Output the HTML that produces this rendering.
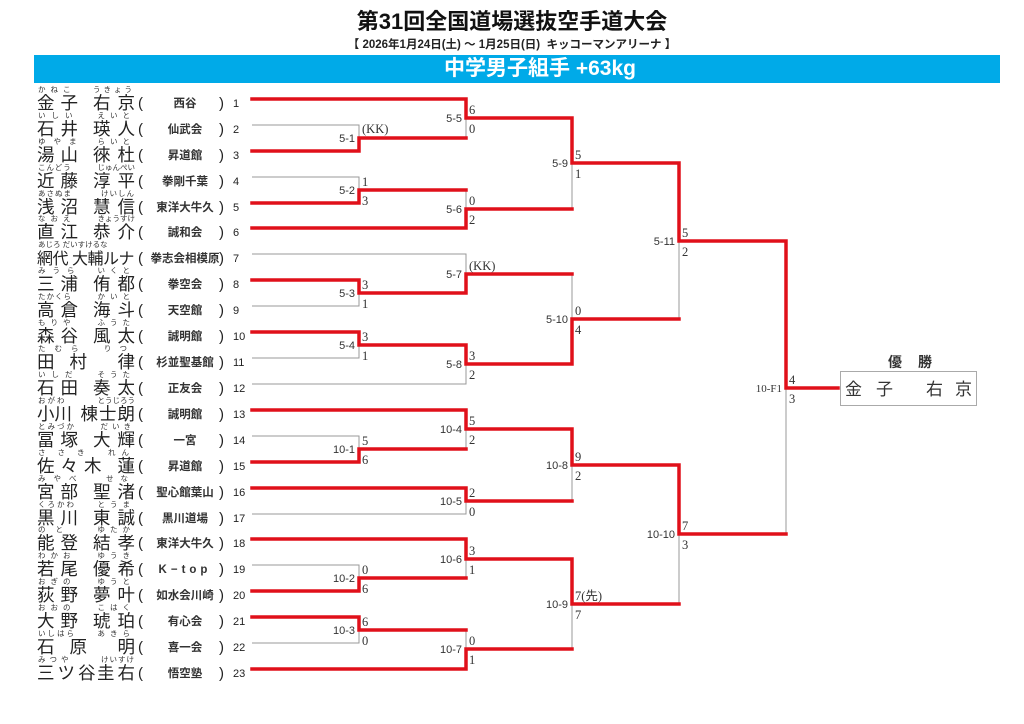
<!DOCTYPE html>
<html><head><meta charset="utf-8">
<style>
*{margin:0;padding:0;box-sizing:border-box}
body{width:1024px;height:724px;background:#fff;position:relative;overflow:hidden;font-family:"Liberation Sans","Noto Sans CJK JP",sans-serif;color:#222}
.abs{position:absolute;white-space:nowrap}
.title{left:0;width:1024px;top:9px;text-align:center;font-size:22px;font-weight:bold;line-height:26px;color:#111}
.sub{left:0;width:1024px;top:38px;text-align:center;font-size:11.5px;font-weight:bold;line-height:14px}
.bar{left:34px;top:55px;width:966px;height:28px;background:#00aae8;color:#fff;text-align:center;font-size:21px;font-weight:bold;line-height:28px;padding-left:46px}
.nm{font-size:17.5px;line-height:17px;color:#222}
.fu{font-size:7.5px;line-height:8px;color:#333}
.dj{font-size:11.5px;line-height:14px;font-weight:bold;width:80px;text-align:center;color:#333}
.pa{font-size:15px;line-height:16px}
.no{font-size:11px;line-height:14px}
</style></head><body>
<div class="abs title">第31回全国道場選抜空手道大会</div>
<div class="abs sub">【 2026年1月24日(土) ～ 1月25日(日)&nbsp; キッコーマンアリーナ 】</div>
<div class="abs bar">中学男子組手 +63kg</div>

<!-- names -->
<div class="abs fu" style="left:38px;top:86px;letter-spacing:5px">かねこ</div><div class="abs fu" style="right:889px;top:86px;letter-spacing:3px">うきょう</div>
<div class="abs nm" style="left:37px;top:95px;letter-spacing:6px">金子</div><div class="abs nm" style="right:889px;top:95px;letter-spacing:7px;margin-right:-7px">右京</div>
<div class="abs fu" style="left:38px;top:112px;letter-spacing:6px">いしい</div><div class="abs fu" style="right:889px;top:112px;letter-spacing:5px">えいと</div>
<div class="abs nm" style="left:37px;top:121px;letter-spacing:6px">石井</div><div class="abs nm" style="right:889px;top:121px;letter-spacing:7px;margin-right:-7px">瑛人</div>
<div class="abs fu" style="left:38px;top:138px;letter-spacing:8px">ゆやま</div><div class="abs fu" style="right:889px;top:138px;letter-spacing:5px">らいと</div>
<div class="abs nm" style="left:37px;top:147px;letter-spacing:6px">湯山</div><div class="abs nm" style="right:889px;top:147px;letter-spacing:7px;margin-right:-7px">徠杜</div>
<div class="abs fu" style="left:38px;top:164px;letter-spacing:1px">こんどう</div><div class="abs fu" style="right:889px;top:164px;letter-spacing:0px">じゅんぺい</div>
<div class="abs nm" style="left:37px;top:173px;letter-spacing:6px">近藤</div><div class="abs nm" style="right:889px;top:173px;letter-spacing:7px;margin-right:-7px">淳平</div>
<div class="abs fu" style="left:38px;top:190px;letter-spacing:1px">あさぬま</div><div class="abs fu" style="right:889px;top:190px;letter-spacing:1px">けいしん</div>
<div class="abs nm" style="left:37px;top:199px;letter-spacing:6px">浅沼</div><div class="abs nm" style="right:889px;top:199px;letter-spacing:7px;margin-right:-7px">慧信</div>
<div class="abs fu" style="left:38px;top:215px;letter-spacing:5px">なおえ</div><div class="abs fu" style="right:889px;top:215px;letter-spacing:0px">きょうすけ</div>
<div class="abs nm" style="left:37px;top:224px;letter-spacing:6px">直江</div><div class="abs nm" style="right:889px;top:224px;letter-spacing:7px;margin-right:-7px">恭介</div>
<div class="abs fu" style="left:38px;top:241px;letter-spacing:0px">あじろ だいすけるな</div>
<div class="abs nm" style="left:37px;top:251px;font-size:16px;letter-spacing:-0.5px">網代 大輔ルナ</div>
<div class="abs fu" style="left:38px;top:267px;letter-spacing:7px">みうら</div><div class="abs fu" style="right:889px;top:267px;letter-spacing:5px">いくと</div>
<div class="abs nm" style="left:37px;top:276px;letter-spacing:6px">三浦</div><div class="abs nm" style="right:889px;top:276px;letter-spacing:7px;margin-right:-7px">侑都</div>
<div class="abs fu" style="left:38px;top:293px;letter-spacing:1px">たかくら</div><div class="abs fu" style="right:889px;top:293px;letter-spacing:5px">かいと</div>
<div class="abs nm" style="left:37px;top:302px;letter-spacing:6px">高倉</div><div class="abs nm" style="right:889px;top:302px;letter-spacing:7px;margin-right:-7px">海斗</div>
<div class="abs fu" style="left:38px;top:319px;letter-spacing:5px">もりや</div><div class="abs fu" style="right:889px;top:319px;letter-spacing:5px">ふうた</div>
<div class="abs nm" style="left:37px;top:328px;letter-spacing:6px">森谷</div><div class="abs nm" style="right:889px;top:328px;letter-spacing:7px;margin-right:-7px">風太</div>
<div class="abs fu" style="left:38px;top:345px;letter-spacing:9px">たむら</div><div class="abs fu" style="right:889px;top:345px;letter-spacing:8px">りつ</div>
<div class="abs nm" style="left:37px;top:354px;letter-spacing:15px">田村</div><div class="abs nm" style="right:889px;top:354px">律</div>
<div class="abs fu" style="left:38px;top:371px;letter-spacing:6px">いしだ</div><div class="abs fu" style="right:889px;top:371px;letter-spacing:5px">そうた</div>
<div class="abs nm" style="left:37px;top:380px;letter-spacing:6px">石田</div><div class="abs nm" style="right:889px;top:380px;letter-spacing:7px;margin-right:-7px">奏太</div>
<div class="abs fu" style="left:38px;top:397px;letter-spacing:2px">おがわ</div><div class="abs fu" style="right:889px;top:397px;letter-spacing:0px">とうじろう</div>
<div class="abs nm" style="left:37px;top:406px;letter-spacing:0px">小川</div><div class="abs nm" style="right:889px;top:406px;letter-spacing:1px;margin-right:-1px">棟士朗</div>
<div class="abs fu" style="left:38px;top:423px;letter-spacing:2px">とみづか</div><div class="abs fu" style="right:889px;top:423px;letter-spacing:4px">だいき</div>
<div class="abs nm" style="left:37px;top:432px;letter-spacing:6px">冨塚</div><div class="abs nm" style="right:889px;top:432px;letter-spacing:7px;margin-right:-7px">大輝</div>
<div class="abs fu" style="left:38px;top:449px;letter-spacing:12px">ささき</div><div class="abs fu" style="right:889px;top:449px;letter-spacing:6px">れん</div>
<div class="abs nm" style="left:37px;top:458px;letter-spacing:6px">佐々木</div><div class="abs nm" style="right:889px;top:458px">蓮</div>
<div class="abs fu" style="left:38px;top:475px;letter-spacing:8px">みやべ</div><div class="abs fu" style="right:889px;top:475px;letter-spacing:7px">せな</div>
<div class="abs nm" style="left:37px;top:484px;letter-spacing:6px">宮部</div><div class="abs nm" style="right:889px;top:484px;letter-spacing:7px;margin-right:-7px">聖渚</div>
<div class="abs fu" style="left:38px;top:501px;letter-spacing:2px">くろかわ</div><div class="abs fu" style="right:889px;top:501px;letter-spacing:5px">とうま</div>
<div class="abs nm" style="left:37px;top:510px;letter-spacing:6px">黒川</div><div class="abs nm" style="right:889px;top:510px;letter-spacing:7px;margin-right:-7px">東誠</div>
<div class="abs fu" style="left:38px;top:526px;letter-spacing:10px">のと</div><div class="abs fu" style="right:889px;top:526px;letter-spacing:5px">ゆたか</div>
<div class="abs nm" style="left:37px;top:535px;letter-spacing:6px">能登</div><div class="abs nm" style="right:889px;top:535px;letter-spacing:7px;margin-right:-7px">結孝</div>
<div class="abs fu" style="left:38px;top:552px;letter-spacing:5px">わかお</div><div class="abs fu" style="right:889px;top:552px;letter-spacing:5px">ゆうき</div>
<div class="abs nm" style="left:37px;top:561px;letter-spacing:6px">若尾</div><div class="abs nm" style="right:889px;top:561px;letter-spacing:7px;margin-right:-7px">優希</div>
<div class="abs fu" style="left:38px;top:578px;letter-spacing:5px">おぎの</div><div class="abs fu" style="right:889px;top:578px;letter-spacing:5px">ゆうと</div>
<div class="abs nm" style="left:37px;top:587px;letter-spacing:6px">荻野</div><div class="abs nm" style="right:889px;top:587px;letter-spacing:7px;margin-right:-7px">夢叶</div>
<div class="abs fu" style="left:38px;top:604px;letter-spacing:5px">おおの</div><div class="abs fu" style="right:889px;top:604px;letter-spacing:5px">こはく</div>
<div class="abs nm" style="left:37px;top:613px;letter-spacing:6px">大野</div><div class="abs nm" style="right:889px;top:613px;letter-spacing:7px;margin-right:-7px">琥珀</div>
<div class="abs fu" style="left:38px;top:630px;letter-spacing:2px">いしはら</div><div class="abs fu" style="right:889px;top:630px;letter-spacing:5px">あきら</div>
<div class="abs nm" style="left:37px;top:639px;letter-spacing:15px">石原</div><div class="abs nm" style="right:889px;top:639px">明</div>
<div class="abs fu" style="left:38px;top:656px;letter-spacing:4px">みつや</div><div class="abs fu" style="right:889px;top:656px;letter-spacing:1px">けいすけ</div>
<div class="abs nm" style="left:37px;top:665px;letter-spacing:3px">三ツ谷</div><div class="abs nm" style="right:889px;top:665px;letter-spacing:3px;margin-right:-3px">圭右</div>

<!-- dojo, parens, numbers -->
<div class="abs" style="left:0;top:0">
<div class="abs pa" style="left:138px;top:96px">(</div><div class="abs dj" style="left:145px;top:97px">西谷</div><div class="abs pa" style="left:219px;top:96px">)</div><div class="abs no" style="left:233px;top:97px">1</div>
<div class="abs pa" style="left:138px;top:122px">(</div><div class="abs dj" style="left:145px;top:123px">仙武会</div><div class="abs pa" style="left:219px;top:122px">)</div><div class="abs no" style="left:233px;top:123px">2</div>
<div class="abs pa" style="left:138px;top:148px">(</div><div class="abs dj" style="left:145px;top:149px">昇道館</div><div class="abs pa" style="left:219px;top:148px">)</div><div class="abs no" style="left:233px;top:149px">3</div>
<div class="abs pa" style="left:138px;top:174px">(</div><div class="abs dj" style="left:145px;top:175px">拳剛千葉</div><div class="abs pa" style="left:219px;top:174px">)</div><div class="abs no" style="left:233px;top:175px">4</div>
<div class="abs pa" style="left:138px;top:200px">(</div><div class="abs dj" style="left:145px;top:201px">東洋大牛久</div><div class="abs pa" style="left:219px;top:200px">)</div><div class="abs no" style="left:233px;top:201px">5</div>
<div class="abs pa" style="left:138px;top:225px">(</div><div class="abs dj" style="left:145px;top:226px">誠和会</div><div class="abs pa" style="left:219px;top:225px">)</div><div class="abs no" style="left:233px;top:226px">6</div>
<div class="abs pa" style="left:138px;top:251px">(</div><div class="abs dj" style="left:145px;top:252px">拳志会相模原</div><div class="abs pa" style="left:219px;top:251px">)</div><div class="abs no" style="left:233px;top:252px">7</div>
<div class="abs pa" style="left:138px;top:277px">(</div><div class="abs dj" style="left:145px;top:278px">拳空会</div><div class="abs pa" style="left:219px;top:277px">)</div><div class="abs no" style="left:233px;top:278px">8</div>
<div class="abs pa" style="left:138px;top:303px">(</div><div class="abs dj" style="left:145px;top:304px">天空館</div><div class="abs pa" style="left:219px;top:303px">)</div><div class="abs no" style="left:233px;top:304px">9</div>
<div class="abs pa" style="left:138px;top:329px">(</div><div class="abs dj" style="left:145px;top:330px">誠明館</div><div class="abs pa" style="left:219px;top:329px">)</div><div class="abs no" style="left:233px;top:330px">10</div>
<div class="abs pa" style="left:138px;top:355px">(</div><div class="abs dj" style="left:145px;top:356px">杉並聖基館</div><div class="abs pa" style="left:219px;top:355px">)</div><div class="abs no" style="left:233px;top:356px">11</div>
<div class="abs pa" style="left:138px;top:381px">(</div><div class="abs dj" style="left:145px;top:382px">正友会</div><div class="abs pa" style="left:219px;top:381px">)</div><div class="abs no" style="left:233px;top:382px">12</div>
<div class="abs pa" style="left:138px;top:407px">(</div><div class="abs dj" style="left:145px;top:408px">誠明館</div><div class="abs pa" style="left:219px;top:407px">)</div><div class="abs no" style="left:233px;top:408px">13</div>
<div class="abs pa" style="left:138px;top:433px">(</div><div class="abs dj" style="left:145px;top:434px">一宮</div><div class="abs pa" style="left:219px;top:433px">)</div><div class="abs no" style="left:233px;top:434px">14</div>
<div class="abs pa" style="left:138px;top:459px">(</div><div class="abs dj" style="left:145px;top:460px">昇道館</div><div class="abs pa" style="left:219px;top:459px">)</div><div class="abs no" style="left:233px;top:460px">15</div>
<div class="abs pa" style="left:138px;top:485px">(</div><div class="abs dj" style="left:145px;top:486px">聖心館葉山</div><div class="abs pa" style="left:219px;top:485px">)</div><div class="abs no" style="left:233px;top:486px">16</div>
<div class="abs pa" style="left:138px;top:511px">(</div><div class="abs dj" style="left:145px;top:512px">黒川道場</div><div class="abs pa" style="left:219px;top:511px">)</div><div class="abs no" style="left:233px;top:512px">17</div>
<div class="abs pa" style="left:138px;top:536px">(</div><div class="abs dj" style="left:145px;top:537px">東洋大牛久</div><div class="abs pa" style="left:219px;top:536px">)</div><div class="abs no" style="left:233px;top:537px">18</div>
<div class="abs pa" style="left:138px;top:562px">(</div><div class="abs dj" style="left:145px;top:563px;letter-spacing:4px">K−top</div><div class="abs pa" style="left:219px;top:562px">)</div><div class="abs no" style="left:233px;top:563px">19</div>
<div class="abs pa" style="left:138px;top:588px">(</div><div class="abs dj" style="left:145px;top:589px">如水会川崎</div><div class="abs pa" style="left:219px;top:588px">)</div><div class="abs no" style="left:233px;top:589px">20</div>
<div class="abs pa" style="left:138px;top:614px">(</div><div class="abs dj" style="left:145px;top:615px">有心会</div><div class="abs pa" style="left:219px;top:614px">)</div><div class="abs no" style="left:233px;top:615px">21</div>
<div class="abs pa" style="left:138px;top:640px">(</div><div class="abs dj" style="left:145px;top:641px">喜一会</div><div class="abs pa" style="left:219px;top:640px">)</div><div class="abs no" style="left:233px;top:641px">22</div>
<div class="abs pa" style="left:138px;top:666px">(</div><div class="abs dj" style="left:145px;top:667px">悟空塾</div><div class="abs pa" style="left:219px;top:666px">)</div><div class="abs no" style="left:233px;top:667px">23</div>
</div>

<svg class="abs" style="left:0;top:0" width="1024" height="724" viewBox="0 0 1024 724">
<g stroke="#999" stroke-width="1" fill="none">
<path d="M252 125H359V138 M252 177H359V190 M252 254H466V274 M252 306H359V293 M252 358H359V345 M252 384H466V364 M466 118V138 M466 190V209 M572 163V209 M572 274V319 M679 241V319"/>
<path d="M252 436H359V449 M466 429V449 M252 514H466V501 M572 465V501 M252 565H359V578 M466 559V578 M252 643H359V630 M466 630V649 M572 604V649 M679 534V604 M786 388V534"/>
<rect x="840.5" y="371.5" width="136" height="34" stroke="#aaa"/>
</g>
<g stroke="#e0101a" stroke-width="3.5" fill="none" stroke-linejoin="miter" stroke-linecap="square">
<path d="M252 99H466V118H572V163H679V241H786V388H838"/>
<path d="M252 151H359V138H466"/>
<path d="M252 203H359V190H466"/>
<path d="M252 228H466V209H572"/>
<path d="M252 280H359V293H466V274H572"/>
<path d="M252 332H359V345H466V364H572V319H679"/>
<path d="M252 410H466V429H572V465H679V534H786"/>
<path d="M252 462H359V449H466"/>
<path d="M252 488H466V501H572"/>
<path d="M252 539H466V559H572V604H679"/>
<path d="M252 591H359V578H466"/>
<path d="M252 617H359V630H466"/>
<path d="M252 669H466V649H572"/>
</g>
<g font-family="Liberation Sans, sans-serif" font-size="11" fill="#333" text-anchor="end">
<text x="355" y="142">5-1</text><text x="355" y="194">5-2</text><text x="355" y="297">5-3</text><text x="355" y="349">5-4</text>
<text x="462" y="122">5-5</text><text x="462" y="213">5-6</text><text x="462" y="278">5-7</text><text x="462" y="368">5-8</text>
<text x="568" y="167">5-9</text><text x="568" y="323">5-10</text><text x="675" y="245">5-11</text>
<text x="355" y="453">10-1</text><text x="355" y="582">10-2</text><text x="355" y="634">10-3</text>
<text x="462" y="433">10-4</text><text x="462" y="505">10-5</text><text x="462" y="563">10-6</text><text x="462" y="653">10-7</text>
<text x="568" y="469">10-8</text><text x="568" y="608">10-9</text><text x="675" y="538">10-10</text>
</g>
<text x="782" y="392" font-family="Liberation Serif, serif" font-size="11" fill="#333" text-anchor="end">10-F1</text>
<g font-family="Liberation Serif, 'Noto Sans CJK JP', serif" font-size="12.5" fill="#333">
<text x="362" y="133">(KK)</text>
<text x="469" y="114">6</text><text x="469" y="133">0</text>
<text x="362" y="186">1</text><text x="362" y="205">3</text>
<text x="469" y="205">0</text><text x="469" y="224">2</text>
<text x="575" y="159">5</text><text x="575" y="178">1</text>
<text x="362" y="289">3</text><text x="362" y="308">1</text>
<text x="469" y="270">(KK)</text>
<text x="362" y="341">3</text><text x="362" y="360">1</text>
<text x="469" y="360">3</text><text x="469" y="379">2</text>
<text x="575" y="315">0</text><text x="575" y="334">4</text>
<text x="682" y="237">5</text><text x="682" y="256">2</text>
<text x="362" y="445">5</text><text x="362" y="464">6</text>
<text x="469" y="425">5</text><text x="469" y="444">2</text>
<text x="469" y="497">2</text><text x="469" y="516">0</text>
<text x="575" y="461">9</text><text x="575" y="480">2</text>
<text x="362" y="574">0</text><text x="362" y="593">6</text>
<text x="469" y="555">3</text><text x="469" y="574">1</text>
<text x="362" y="626">6</text><text x="362" y="645">0</text>
<text x="469" y="645">0</text><text x="469" y="664">1</text>
<text x="575" y="600">7(先)</text><text x="575" y="619">7</text>
<text x="682" y="530">7</text><text x="682" y="549">3</text>
<text x="789" y="384">4</text><text x="789" y="403">3</text>
</g>
<text x="888" y="367" font-family="Liberation Sans, 'Noto Sans CJK JP', sans-serif" font-size="14" font-weight="bold" fill="#333" letter-spacing="16">優勝</text>
<g font-family="Liberation Sans, 'Noto Sans CJK JP', sans-serif" font-size="17" fill="#333">
<text x="845" y="395">金</text><text x="876" y="395">子</text><text x="926" y="395">右</text><text x="955" y="395">京</text>
</g>
</svg>
</body></html>
